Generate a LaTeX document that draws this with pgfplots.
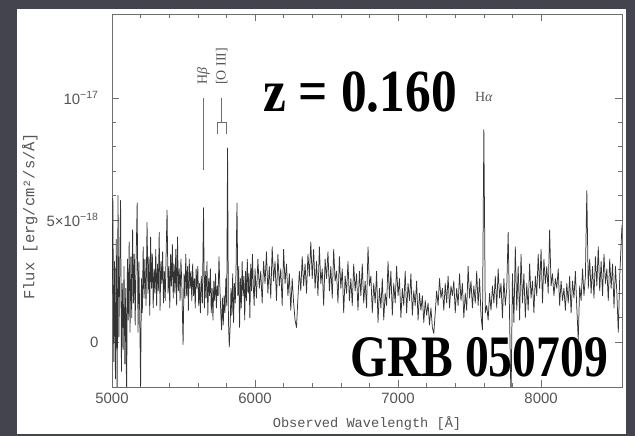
\documentclass[border=0pt]{standalone}
\usepackage{pgfplots}
\pgfplotsset{compat=1.18}
\usepackage{pgfplotstable}
\usepackage{fontspec}
\setmainfont{Liberation Serif}
\newfontfamily\sansf{Liberation Sans}
\newfontfamily\monof{Liberation Mono}
\definecolor{bgdark}{HTML}{43444E}
\definecolor{txtgray}{HTML}{555555}
\definecolor{axgray}{HTML}{6E6E6E}

\pgfplotstableread{
lam flux
5000 2.0
5006 5.9
5012 -0.8
5018 3.3
5024 -1.5
5030 4.2
5036 -2.5
5042 6.0
5048 0.2
5054 3.0
5060 5.8
5066 -1.2
5072 2.4
5078 -0.3
5084 3.1
5090 -0.9
5096 2.2
5102 -2.5
5108 3.4
5114 0.9
5120 4.1
5126 0.4
5132 3.5
5138 1.0
5144 4.6
5150 1.6
5156 3.6
5162 0.7
5168 3.2
5176 5.7
5182 0.4
5188 3.3
5194 1.0
5200 -1.8
5206 2.6
5212 1.2
5218 3.9
5224 1.8
5230 3.4
5238 1.5
5245 4.9
5252 2.0
5258 3.5
5264 1.1
5270 4.3
5276 2.2
5282 3.6
5288 1.4
5294 3.0
5300 2.0
5306 3.8
5312 1.5
5318 3.2
5324 2.1
5330 4.5
5336 1.3
5342 3.3
5348 2.4
5354 3.7
5360 1.6
5366 2.9
5372 1.7
5378 3.5
5385 5.4
5392 2.0
5398 3.1
5404 1.4
5410 3.6
5416 2.3
5422 4.0
5428 1.8
5434 3.2
5440 2.0
5446 3.8
5452 1.5
5458 4.3
5464 2.1
5470 3.0
5476 1.7
5482 3.4
5488 2.4
5497 -0.1
5504 2.8
5510 1.8
5516 3.6
5522 1.9
5528 3.1
5534 1.3
5540 3.4
5546 2.2
5552 2.9
5558 1.7
5564 3.2
5570 1.9
5576 2.6
5582 1.4
5588 3.0
5594 2.2
5600 3.1
5606 1.5
5612 2.4
5618 1.2
5624 2.7
5632 1.6
5640 5.5
5646 1.4
5652 2.9
5658 1.8
5664 3.3
5670 1.1
5676 2.6
5682 1.9
5688 3.0
5694 1.2
5700 2.2
5706 0.9
5712 2.5
5718 1.7
5724 2.8
5730 1.4
5736 2.3
5742 1.9
5748 3.5
5754 2.3
5760 1.3
5766 0.5
5772 1.8
5778 0.7
5784 1.9
5790 1.2
5796 2.6
5802 1.5
5808 7.95
5814 0.9
5820 -0.2
5826 0.6
5832 2.2
5838 1.1
5844 2.8
5850 0.8
5856 2.4
5862 1.6
5868 3.2
5874 5.7
5880 1.9
5886 3.1
5892 0.6
5898 2.6
5904 1.4
5910 3.3
5916 1.9
5922 2.7
5928 0.9
5934 2.9
5940 1.7
5946 3.4
5952 2.0
5958 2.8
5964 1.0
5970 3.2
5976 2.1
5982 3.6
5988 2.3
5994 1.5
6000 3.0
6010 1.8
6020 3.4
6030 2.2
6040 2.9
6050 1.6
6060 3.3
6070 2.4
6080 3.7
6090 2.0
6100 3.1
6110 1.8
6120 3.9
6130 2.5
6140 3.3
6150 1.7
6160 3.6
6170 2.3
6180 3.0
6190 1.5
6200 3.8
6210 2.4
6220 3.2
6230 1.9
6240 2.8
6250 1.3
6260 2.6
6270 1.6
6280 0.9
6290 0.6
6300 1.8
6310 2.9
6320 2.1
6330 3.5
6340 2.3
6350 3.2
6360 2.0
6370 3.6
6380 2.7
6390 4.1
6400 2.6
6410 3.8
6420 2.2
6430 3.3
6440 1.9
6450 3.9
6460 2.4
6470 3.0
6480 1.5
6490 3.4
6500 2.6
6510 3.7
6520 2.1
6530 3.1
6540 1.8
6550 3.8
6560 2.5
6570 2.9
6580 1.6
6590 3.5
6600 2.2
6610 3.0
6620 1.2
6630 2.7
6640 2.0
6650 3.3
6660 1.7
6670 2.6
6680 1.5
6690 3.2
6700 2.1
6710 2.8
6720 1.3
6730 2.9
6740 1.9
6750 3.2
6760 1.6
6770 2.5
6780 1.4
6790 3.9
6800 2.3
6810 2.7
6820 1.2
6830 2.4
6840 1.6
6850 2.9
6860 0.8
6870 2.2
6880 1.4
6890 2.6
6900 0.9
6910 2.0
6920 1.5
6930 3.3
6940 1.8
6950 2.9
6960 1.1
6970 2.4
6980 1.6
6990 3.1
7000 1.9
7010 2.6
7020 1.0
7030 2.2
7040 1.5
7050 2.9
7060 1.2
7070 2.4
7080 1.7
7090 2.8
7100 1.1
7110 2.1
7120 1.5
7130 2.5
7140 0.9
7150 2.0
7160 1.3
7170 1.9
7180 0.8
7190 1.7
7200 1.1
7210 1.6
7220 0.7
7230 1.4
7240 0.6
7250 0.35
7260 1.2
7270 2.1
7280 1.5
7290 2.6
7300 1.8
7310 2.2
7320 1.3
7330 2.4
7340 1.6
7350 2.7
7360 1.4
7370 2.3
7380 1.9
7390 2.5
7400 1.2
7410 2.2
7420 1.5
7430 2.8
7440 1.7
7450 2.4
7460 1.0
7470 2.0
7480 1.3
7490 3.1
7500 1.8
7510 2.5
7520 1.4
7530 2.3
7540 1.6
7550 2.9
7560 1.5
7570 2.6
7580 1.1
7590 0.5
7600 8.7
7610 1.2
7620 1.5
7630 0.9
7640 2.0
7650 1.3
7660 2.3
7670 1.6
7680 2.7
7690 1.4
7700 3.0
7710 1.8
7720 2.4
7730 1.0
7740 2.6
7750 1.5
7760 2.2
7770 4.5
7780 1.0
7790 -2.5
7800 2.8
7810 0.8
7820 3.9
7830 1.3
7840 3.1
7850 0.9
7860 3.6
7870 1.6
7880 2.8
7890 1.0
7900 2.4
7910 1.3
7920 3.2
7930 1.8
7940 2.5
7950 1.2
7960 2.7
7970 1.9
7980 3.6
7990 2.2
8000 3.8
8010 1.6
8020 3.4
8030 2.4
8040 3.1
8050 2.0
8060 4.6
8070 2.3
8080 2.8
8090 1.9
8100 2.6
8110 2.2
8120 3.0
8130 1.5
8140 2.5
8150 1.7
8160 2.2
8170 1.3
8180 2.4
8190 1.6
8200 2.7
8210 1.2
8220 2.5
8230 1.8
8240 2.9
8250 1.4
8260 0.1
8270 2.3
8280 1.7
8290 3.0
8300 1.9
8310 2.7
8320 6.2
8330 2.2
8340 3.4
8350 2.0
8360 3.1
8370 1.8
8380 3.5
8390 2.3
8400 3.9
8410 2.1
8420 3.3
8430 1.9
8440 3.6
8450 2.4
8460 3.0
8470 1.7
8480 3.4
8490 2.2
8500 3.2
8510 1.4
8520 3.1
8530 2.0
8540 0.4
8550 2.7
8566 4.8
}\spec

\begin{document}
\begin{tikzpicture}[x=1bp,y=1bp]
\useasboundingbox (0,0) rectangle (635,436);
\fill[bgdark] (0,0) rectangle (635,436);
\fill[white] (17,2) rectangle (626,427);
\begin{axis}[
  at={(112bp,49bp)}, anchor=south west,
  scale only axis, width=510bp, height=373bp,
  xmin=5000, xmax=8566, ymin=-1.84, ymax=13.44,
  axis line style={axgray, line width=0.6pt},
  every tick/.style={axgray, line width=0.6pt},
  major tick length=7bp, minor tick length=4bp,
  tick pos=both, tick align=inside,
  xtick={5000,6000,7000,8000},
  xticklabels={5000,6000,7000,8000},
  minor x tick num=4,
  ytick={0,5,10},
  yticklabels={0,5×10\textsuperscript{−18},10\textsuperscript{−17}},
  minor y tick num=4,
  ticklabel style={font=\sansf\fontsize{15}{15}\selectfont, text=txtgray},
  yticklabel shift=10bp,
  xticklabel shift=3bp,
  /pgf/number format/assume math mode=true,
  xlabel={Observed Wavelength [Å]},
  ylabel={Flux [erg/cm²/s/Å]},
  xlabel style={font=\monof\fontsize{13.7}{14}\selectfont, text=txtgray,
    at={(axis description cs:0.5,-0.099)}, anchor=center},
  ylabel style={font=\monof\fontsize{15.5}{16}\selectfont, text=txtgray,
    at={(axis description cs:-0.161,0.458)}, anchor=center},
]
\node[font=\bfseries\fontsize{60}{60}\selectfont, anchor=base, xscale=0.86] at (axis cs:6734,9.43) {z = 0.160};
\node[font=\bfseries\fontsize{59}{59}\selectfont, anchor=base, xscale=0.81] at (axis cs:7566,-1.39) {GRB 050709};
\addplot[black!80, line width=0.75pt, line join=round] table[x=lam,y=flux]{\spec};
\draw[axgray, line width=0.7pt] (axis cs:5640,7.05) -- (axis cs:5640,10.0);
\draw[axgray, line width=0.7pt] (axis cs:5767,10.0) -- (axis cs:5767,9.0);
\draw[axgray, line width=0.7pt] (axis cs:5736,8.52) -- (axis cs:5736,9.0) -- (axis cs:5797,9.0) -- (axis cs:5797,8.52);
\node[rotate=90, anchor=west, inner sep=0pt, text=txtgray, font=\fontsize{14}{14}\selectfont] at (axis cs:5640,10.53) {H\textit{β}};
\node[rotate=90, anchor=west, inner sep=0pt, text=txtgray, font=\fontsize{14}{14}\selectfont] at (axis cs:5767,10.53) {[O III]};
\node[text=txtgray, font=\fontsize{14}{14}\selectfont] at (axis cs:7600,10.04) {H\textit{α}};
\end{axis}
\end{tikzpicture}
\end{document}
